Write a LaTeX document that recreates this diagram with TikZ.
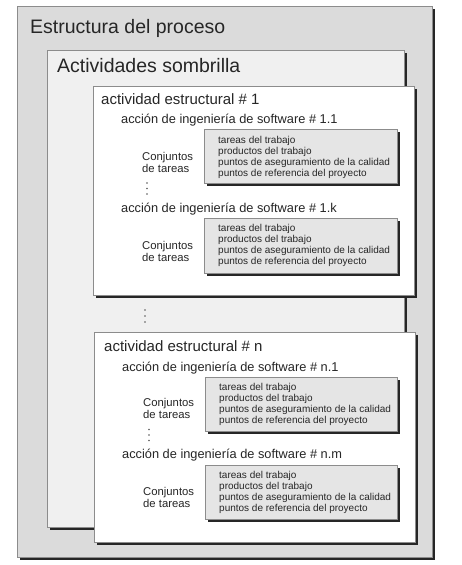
\documentclass[tikz,border=0pt]{standalone}
\usepackage{fontspec}
\setmainfont{Liberation Sans}
\usetikzlibrary{calc}
\definecolor{grisfondo}{gray}{0.86}
\definecolor{grisclaro}{gray}{0.94}
\definecolor{gristarea}{gray}{0.90}
\tikzset{
	caja/.style={draw=black!45, line width=0.6pt},
	sombra/.style={fill=black!85},
	punto/.style={fill=black!65},
	titulo/.style={anchor=base west, inner sep=0pt, text=black!85, font=\fontsize{19.5}{22}\selectfont},
	actividad/.style={anchor=base west, inner sep=0pt, text=black!85, font=\fontsize{15}{18}\selectfont},
	accion/.style={anchor=base west, inner sep=0pt, text=black!85, font=\fontsize{12.8}{15}\selectfont},
	conjunto/.style={anchor=west, inner sep=0pt, align=left, text=black!85, font=\fontsize{11.3}{12}\selectfont},
	lista/.style={anchor=west, inner sep=0pt, align=left, text=black!85, font=\fontsize{10}{11}\selectfont},
}
\begin{document}
\begin{tikzpicture}[x=1pt,y=-1pt]
\useasboundingbox (0,0) rectangle (461,565);
\fill[white] (0,0) rectangle (461,565);
% estructura del proceso
\fill[sombra] (20,9) rectangle (435,560);
\filldraw[caja, fill=grisfondo] (17,6) rectangle (432,557);
\node[titulo] (proceso) at (30,33) {Estructura del proceso};
% actividades sombrilla
\fill[sombra] (50,53) rectangle (407,530);
\filldraw[caja, fill=grisclaro] (47,50) rectangle (404,527);
\node[titulo] (sombrilla) at (57,72) {Actividades sombrilla};
% actividad estructural 1
\fill[sombra] (96,89) rectangle (417,298);
\filldraw[caja, fill=white] (93,86) rectangle (414,295);
\node[actividad] (act1) at (101,104) {actividad estructural \# 1};
\node[accion] (acc11) at (121,123) {acción de ingeniería de software \# 1.1};
\fill[sombra] (207,132) rectangle (400,186);
\filldraw[caja, fill=gristarea] (204,129) rectangle (397,183);
\node[lista] (tar11) at (218,157) {tareas del trabajo\\productos del trabajo\\puntos de aseguramiento de la calidad\\puntos de referencia del proyecto};
\node[conjunto] (conj11) at (142,162) {Conjuntos\\de tareas};
\fill[punto] (147,183) circle (0.9) (147,188.5) circle (0.9) (147,194) circle (0.9);
\node[accion] (acc1k) at (121,212) {acción de ingeniería de software \# 1.k};
\fill[sombra] (207,221) rectangle (400,276);
\filldraw[caja, fill=gristarea] (204,218) rectangle (397,273);
\node[lista] (tar1k) at (218,245) {tareas del trabajo\\productos del trabajo\\puntos de aseguramiento de la calidad\\puntos de referencia del proyecto};
\node[conjunto] (conj1k) at (142,251) {Conjuntos\\de tareas};
% entre actividades
\fill[punto] (145,310) circle (0.9) (145,316) circle (0.9) (145,322) circle (0.9);
% actividad estructural n
\fill[sombra] (97,335) rectangle (418,545);
\filldraw[caja, fill=white] (94,332) rectangle (415,542);
\node[actividad] (actn) at (104,351) {actividad estructural \# n};
\node[accion] (accn1) at (122,371) {acción de ingeniería de software \# n.1};
\fill[sombra] (208,380) rectangle (400,434);
\filldraw[caja, fill=gristarea] (205,377) rectangle (397,431);
\node[lista] (tarn1) at (219,404) {tareas del trabajo\\productos del trabajo\\puntos de aseguramiento de la calidad\\puntos de referencia del proyecto};
\node[conjunto] (conjn1) at (143,408) {Conjuntos\\de tareas};
\fill[punto] (149,429.5) circle (0.9) (149,435) circle (0.9) (149,440.5) circle (0.9);
\node[accion] (accnm) at (122,458) {acción de ingeniería de software \# n.m};
\fill[sombra] (208,468) rectangle (400,522);
\filldraw[caja, fill=gristarea] (205,465) rectangle (397,519);
\node[lista] (tarnm) at (219,492) {tareas del trabajo\\productos del trabajo\\puntos de aseguramiento de la calidad\\puntos de referencia del proyecto};
\node[conjunto] (conjnm) at (143,497) {Conjuntos\\de tareas};
\end{tikzpicture}
\end{document}
